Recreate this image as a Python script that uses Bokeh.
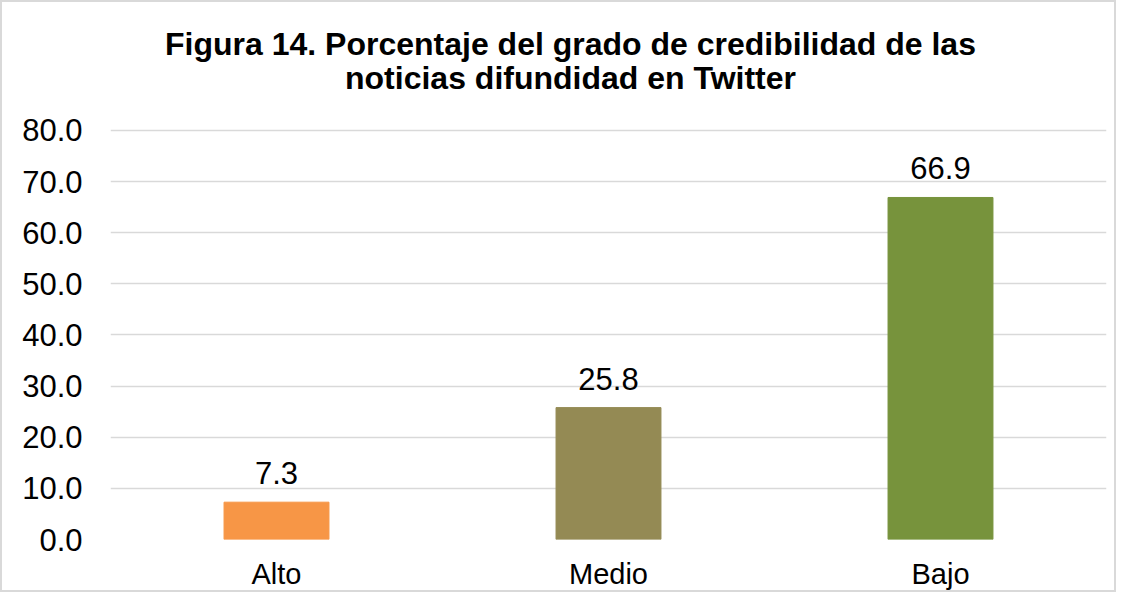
from bokeh.plotting import figure
from bokeh.models import ColumnDataSource, FactorRange, Range1d, FixedTicker, CustomJSTickFormatter
from bokeh.embed import file_html
from bokeh.resources import INLINE
from bokeh.core.properties import value

categories = ["Alto", "Medio", "Bajo"]
values = [7.3, 25.8, 66.9]
colors = ["#F79646", "#948A54", "#77933C"]
labels = ["7.3", "25.8", "66.9"]
y_ticks = [0, 10, 20, 30, 40, 50, 60, 70, 80]
title_lines = ["Figura 14. Porcentaje del grado de credibilidad de las",
               "noticias difundidad en Twitter"]

FONT = "Liberation Sans"
Y_MAX_TICK = y_ticks[-1]

src = ColumnDataSource(dict(cat=categories, val=values, color=colors, label=labels))

# frame extends above the top tick so the two-line title can sit inside it
p = figure(width=1116, height=592, x_range=FactorRange(*categories, range_padding=0),
           y_range=Range1d(0, 103.08), output_backend="svg", toolbar_location=None,
           min_border_left=108, min_border_right=12, min_border_bottom=55, min_border_top=10)

p.vbar(x="cat", top="val", width=0.316, color="color", source=src)
p.text(x="cat", y="val", text="label", source=src, text_align="center",
       text_baseline="alphabetic", y_offset=-29, text_font=value(FONT),
       text_font_size="31px", text_color="#000000")

# title (two bold lines) anchored to the top gridline
title_src = ColumnDataSource(dict(x=[categories[1]] * 2, y=[Y_MAX_TICK] * 2,
                                  t=title_lines, dy=[-86, -52]))
p.text(x="x", y="y", text="t", y_offset="dy", x_offset=-38, source=title_src,
       text_align="center", text_baseline="alphabetic", text_font=value(FONT),
       text_font_size="32px", text_font_style="bold", text_color="#000000")

p.outline_line_color = None
p.xgrid.grid_line_color = None
p.ygrid.grid_line_color = "#D9D9D9"
p.ygrid.grid_line_width = 1.5
p.yaxis.ticker = FixedTicker(ticks=y_ticks)
p.yaxis.formatter = CustomJSTickFormatter(code="return tick.toFixed(1);")

for ax in (p.xaxis, p.yaxis):
    ax.axis_line_color = None
    ax.major_tick_line_color = None
    ax.minor_tick_line_color = None
    ax.major_label_text_font = FONT
    ax.major_label_text_color = "#000000"

p.yaxis.major_label_text_font_size = "31px"
p.yaxis.major_label_standoff = 22
p.xaxis.major_label_text_font_size = "29px"
p.xaxis.major_label_standoff = 12

p.styles = {"border": "2px solid #D9D9D9", "box-sizing": "border-box"}

open("out.html", "w").write(file_html(p, INLINE))
